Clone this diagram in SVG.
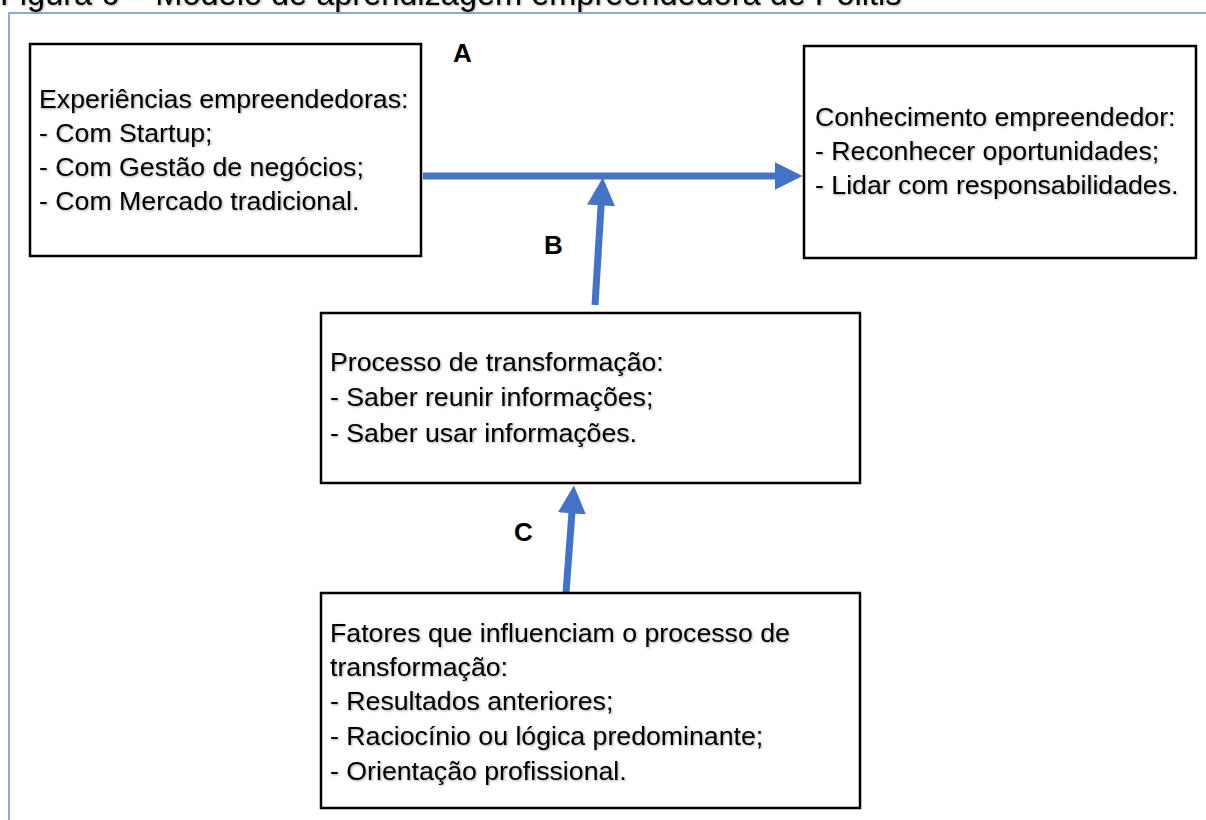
<svg xmlns="http://www.w3.org/2000/svg" width="1206" height="820" viewBox="0 0 1206 820">
<defs>
<style>
.box{fill:#fff;stroke:#000;stroke-width:2.5}
.t{font-family:"Liberation Sans",Arial,sans-serif;font-size:26.7px;fill:#000;filter:url(#sh)}
.lbl{font-family:"Liberation Sans",Arial,sans-serif;font-size:26px;font-weight:bold;fill:#000}
.conn{stroke:#4472C4;stroke-width:7;fill:none}
</style>
<filter id="sh" x="-5%" y="-30%" width="110%" height="160%">
<feDropShadow dx="1" dy="1" stdDeviation="0.8" flood-color="#000" flood-opacity="0.35"/>
</filter>
<marker id="ah" markerWidth="4" markerHeight="4" refX="2.2" refY="2" orient="auto" markerUnits="strokeWidth" viewBox="0 0 4 4">
<path d="M0,0 L4,2 L0,4 Z" fill="#4472C4"/>
</marker>
</defs>
<rect width="1206" height="820" fill="#fff"/>
<text class="t" x="0" y="5" style="font-size:32.5px">Figura 6 – Modelo de aprendizagem empreendedora de Politis</text>
<path d="M9,820 V13 H1206" stroke="#4472C4" stroke-width="1.5" fill="none" opacity="0.8"/>
<g id="connectors">
<line class="conn" x1="423" y1="176" x2="790" y2="176" marker-end="url(#ah)"/>
<line class="conn" x1="595" y1="305" x2="602" y2="190" marker-end="url(#ah)"/>
<line class="conn" x1="566" y1="593" x2="573" y2="498" marker-end="url(#ah)"/>
</g>
<g id="node-a"><text class="lbl" x="453" y="62">A</text></g>
<g id="node-b"><text class="lbl" x="544" y="254">B</text></g>
<g id="node-c"><text class="lbl" x="514" y="541">C</text></g>
<g id="node-experiencias">
<rect class="box" x="30" y="44" width="391" height="212"/>
<text class="t" x="39" y="108">Experiências empreendedoras:</text>
<text class="t" x="39" y="142">- Com Startup;</text>
<text class="t" x="39" y="176">- Com Gestão de negócios;</text>
<text class="t" x="39" y="210">- Com Mercado tradicional.</text>
</g>
<g id="node-conhecimento">
<rect class="box" x="804" y="46" width="392" height="212"/>
<text class="t" x="815" y="126">Conhecimento empreendedor:</text>
<text class="t" x="815" y="160">- Reconhecer oportunidades;</text>
<text class="t" x="815" y="194">- Lidar com responsabilidades.</text>
</g>
<g id="node-processo">
<rect class="box" x="321" y="313" width="539" height="170"/>
<text class="t" x="330" y="371">Processo de transformação:</text>
<text class="t" x="330" y="406">- Saber reunir informações;</text>
<text class="t" x="330" y="442">- Saber usar informações.</text>
</g>
<g id="node-fatores">
<rect class="box" x="321" y="593" width="539" height="215"/>
<text class="t" x="330" y="642">Fatores que influenciam o processo de</text>
<text class="t" x="330" y="676">transformação:</text>
<text class="t" x="330" y="710">- Resultados anteriores;</text>
<text class="t" x="330" y="745">- Raciocínio ou lógica predominante;</text>
<text class="t" x="330" y="780">- Orientação profissional.</text>
</g>
</svg>
